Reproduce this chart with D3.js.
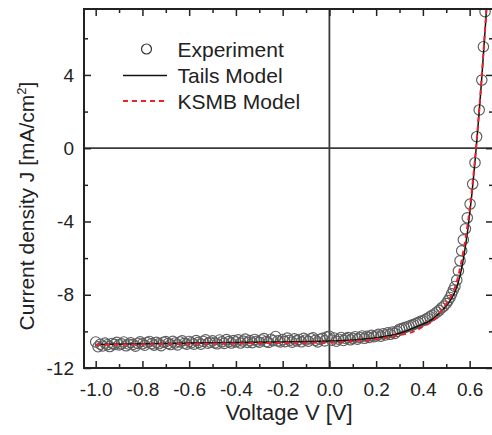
<!DOCTYPE html>
<html><head><meta charset="utf-8">
<script src="https://cdn.jsdelivr.net/npm/d3@7"></script>
<style>body{margin:0;background:#fff}svg{display:block}text{font-family:"Liberation Sans",Arial,sans-serif;fill:#222}</style>
</head><body>
<script>
// ---- data ----
const expV = [
-1.00,-0.99,-0.98,-0.97,-0.96,-0.95,-0.94,-0.93,-0.92,-0.91,
-0.90,-0.89,-0.88,-0.87,-0.86,-0.85,-0.84,-0.83,-0.82,-0.81,
-0.80,-0.79,-0.78,-0.77,-0.76,-0.75,-0.74,-0.73,-0.72,-0.71,
-0.70,-0.69,-0.68,-0.67,-0.66,-0.65,-0.64,-0.63,-0.62,-0.61,
-0.60,-0.59,-0.58,-0.57,-0.56,-0.55,-0.54,-0.53,-0.52,-0.51,
-0.50,-0.49,-0.48,-0.47,-0.46,-0.45,-0.44,-0.43,-0.42,-0.41,
-0.40,-0.39,-0.38,-0.37,-0.36,-0.35,-0.34,-0.33,-0.32,-0.31,
-0.30,-0.29,-0.28,-0.27,-0.26,-0.25,-0.24,-0.23,-0.22,-0.21,
-0.20,-0.19,-0.18,-0.17,-0.16,-0.15,-0.14,-0.13,-0.12,-0.11,
-0.10,-0.09,-0.08,-0.07,-0.06,-0.05,-0.04,-0.03,-0.02,-0.01,
0.00,0.01,0.02,0.03,0.04,0.05,0.06,0.07,0.08,0.09,
0.10,0.11,0.12,0.13,0.14,0.15,0.16,0.17,0.18,0.19,
0.20,0.21,0.22,0.23,0.24,0.25,0.26,0.27,0.28,0.29,
0.30,0.31,0.32,0.33,0.34,0.35,0.36,0.37,0.38,0.39,
0.40,0.41,0.42,0.43,0.44,0.45,0.46,0.47,0.48,0.49,
0.500,0.508,0.516,0.523,0.530,0.537,0.545,0.552,0.559,0.566,
0.573,0.582,0.590,0.602,0.613,0.623,0.630,0.641,0.652,0.659,0.666];
const expJ = [
-10.58,-10.84,-10.70,-10.80,-10.64,-10.73,-10.83,-10.66,-10.71,-10.60,
-10.74,-10.68,-10.58,-10.79,-10.69,-10.62,-10.71,-10.81,-10.66,-10.57,
-10.68,-10.76,-10.61,-10.55,-10.67,-10.75,-10.60,-10.68,-10.78,-10.59,
-10.56,-10.66,-10.72,-10.54,-10.63,-10.74,-10.58,-10.52,-10.65,-10.70,
-10.55,-10.62,-10.70,-10.50,-10.60,-10.70,-10.55,-10.46,-10.65,-10.59,
-10.52,-10.63,-10.68,-10.47,-10.57,-10.66,-10.45,-10.56,-10.64,-10.50,
-10.58,-10.46,-10.64,-10.53,-10.42,-10.60,-10.50,-10.62,-10.44,-10.54,
-10.59,-10.47,-10.39,-10.56,-10.61,-10.43,-10.51,-10.28,-10.52,-10.58,
-10.45,-10.56,-10.37,-10.49,-10.59,-10.41,-10.52,-10.44,-10.57,-10.38,
-10.47,-10.54,-10.40,-10.35,-10.49,-10.58,-10.43,-10.38,-10.52,-10.30,
-10.27,-10.48,-10.36,-10.54,-10.43,-10.33,-10.50,-10.39,-10.34,-10.46,
-10.38,-10.29,-10.43,-10.33,-10.25,-10.38,-10.27,-10.33,-10.22,-10.29,
-10.25,-10.16,-10.26,-10.13,-10.20,-10.08,-10.16,-10.04,-10.11,-10.00,
-9.88,-9.85,-9.80,-9.76,-9.72,-9.67,-9.63,-9.57,-9.52,-9.45,
-9.42,-9.35,-9.28,-9.20,-9.12,-9.05,-8.95,-8.85,-8.72,-8.62,
-8.48,-8.32,-8.15,-7.95,-7.75,-7.55,-7.20,-6.70,-6.15,-5.60,
-5.00,-4.40,-3.80,-3.05,-1.96,-0.79,0.63,2.09,3.72,5.54,7.45];
const tailsV = [-1.0,-0.8,-0.6,-0.4,-0.2,0.0,0.1,0.2,0.3,0.374,0.445,0.50,0.52,0.54,0.56,0.575,0.59,0.60,0.61,0.62,0.63,0.64,0.65,0.66,0.67,0.68];
const tailsJ = [-10.72,-10.68,-10.64,-10.61,-10.58,-10.53,-10.47,-10.35,-10.10,-9.74,-9.29,-8.60,-8.25,-7.75,-6.90,-5.90,-4.65,-3.60,-2.45,-1.15,0.30,1.85,3.50,5.30,7.15,9.10];
const ksmbV = [-1.0,-0.8,-0.6,-0.4,-0.2,0.0,0.1,0.2,0.3,0.345,0.40,0.45,0.50,0.52,0.54,0.56,0.575,0.59,0.60,0.61,0.62,0.63,0.64,0.65,0.66,0.67,0.68];
const ksmbJ = [-10.74,-10.71,-10.68,-10.66,-10.63,-10.60,-10.53,-10.42,-10.20,-10.08,-9.75,-9.35,-8.50,-8.10,-7.50,-6.50,-5.50,-4.30,-3.35,-2.25,-1.00,0.40,1.95,3.60,5.40,7.25,9.20];
const xTicks = [-1.0,-0.8,-0.6,-0.4,-0.2,0.0,0.2,0.4,0.6];
const xMinor = [-0.9,-0.7,-0.5,-0.3,-0.1,0.1,0.3,0.5];
const yTicks = [-12,-8,-4,0,4];
const yMinor = [-10,-6,-2,2,6];
const legendLabels = ["Experiment","Tails Model","KSMB Model"];

// ---- layout ----
const W = 492, H = 435;
const L = 84, R = 493, T = 9, B = 368;
const x = d3.scaleLinear().domain([-1.05, 0.70]).range([L, R]);
const y = d3.scaleLinear().domain([-12, 7.6]).range([B, T]);

const svg = d3.select("body").append("svg").attr("width", W).attr("height", H);
svg.append("defs").append("clipPath").attr("id","clip")
  .append("rect").attr("x",L).attr("y",T).attr("width",R-L).attr("height",B-T);

// zero lines
svg.append("line").attr("x1",L).attr("x2",R).attr("y1",y(0)).attr("y2",y(0)).attr("stroke","#3a3a3a").attr("stroke-width",1.8);
svg.append("line").attr("x1",x(0)).attr("x2",x(0)).attr("y1",T).attr("y2",B).attr("stroke","#3a3a3a").attr("stroke-width",1.8);

const plot = svg.append("g").attr("clip-path","url(#clip)");
const pts = expV.map((v,i)=>({v, j: expJ[i]}));
plot.selectAll("circle.exp").data(pts).join("circle").attr("class","exp")
  .attr("cx",d=>x(d.v)).attr("cy",d=>y(d.j)).attr("r",5.2)
  .attr("fill","none").attr("stroke","#5e5e5e").attr("stroke-width",1.15);

const line = d3.line().x(d=>x(d[0])).y(d=>y(d[1])).curve(d3.curveMonotoneX);
plot.append("path").datum(tailsV.map((v,i)=>[v,tailsJ[i]])).attr("d",line)
  .attr("fill","none").attr("stroke","#111").attr("stroke-width",1.5);
plot.append("path").datum(ksmbV.map((v,i)=>[v,ksmbJ[i]])).attr("d",line)
  .attr("fill","none").attr("stroke","#e8232a").attr("stroke-width",2).attr("stroke-dasharray","5,4");

// axes
const fs = 19;
function styleAxis(g){ g.select(".domain").remove(); g.selectAll("line").attr("stroke","#222").attr("stroke-width",1.5); g.selectAll("text").attr("font-size",fs).attr("fill","#222").attr("font-family","Liberation Sans, Arial, sans-serif"); }
const fmtX = d=> (d<0?"-":"") + Math.abs(d).toFixed(1);
const fmtY = d=> (d<0?"-":"") + Math.abs(d);

svg.append("g").attr("transform",`translate(0,${B})`)
  .call(d3.axisBottom(x).tickValues(xTicks).tickSize(-7).tickPadding(15).tickFormat(fmtX)).call(styleAxis);
svg.append("g").attr("transform",`translate(0,${B})`)
  .call(d3.axisBottom(x).tickValues(xMinor).tickSize(-4).tickFormat("")).call(styleAxis);
svg.append("g").attr("transform",`translate(0,${T})`)
  .call(d3.axisTop(x).tickValues(xTicks).tickSize(-7).tickFormat("")).call(styleAxis);
svg.append("g").attr("transform",`translate(0,${T})`)
  .call(d3.axisTop(x).tickValues(xMinor).tickSize(-4).tickFormat("")).call(styleAxis);
svg.append("g").attr("transform",`translate(${L},0)`)
  .call(d3.axisLeft(y).tickValues(yTicks).tickSize(-7).tickPadding(10).tickFormat(fmtY)).call(styleAxis);
svg.append("g").attr("transform",`translate(${L},0)`)
  .call(d3.axisLeft(y).tickValues(yMinor).tickSize(-4).tickFormat("")).call(styleAxis);
svg.append("g").attr("transform",`translate(${R},0)`)
  .call(d3.axisRight(y).tickValues(yTicks).tickSize(-7).tickFormat("")).call(styleAxis);
svg.append("g").attr("transform",`translate(${R},0)`)
  .call(d3.axisRight(y).tickValues(yMinor).tickSize(-4).tickFormat("")).call(styleAxis);

// frame
svg.append("rect").attr("x",L).attr("y",T).attr("width",R-L).attr("height",B-T)
  .attr("fill","none").attr("stroke","#222").attr("stroke-width",2);

// axis titles
svg.append("text").attr("x",289).attr("y",420).attr("text-anchor","middle").attr("font-size",22).text("Voltage V [V]");
const yt = svg.append("text").attr("transform","translate(34,206) rotate(-90)").attr("text-anchor","middle").attr("font-size",21);
yt.append("tspan").text("Current density J [mA/cm");
yt.append("tspan").attr("font-size",13).attr("dy",-8).text("2");
yt.append("tspan").attr("dy",8).text("]");

// legend
const lg = svg.append("g");
const rows = [49, 75.5, 101];
lg.append("circle").attr("cx",146.5).attr("cy",rows[0]).attr("r",5).attr("fill","none").attr("stroke","#333").attr("stroke-width",1.2);
lg.append("line").attr("x1",123).attr("x2",167).attr("y1",rows[1]).attr("y2",rows[1]).attr("stroke","#111").attr("stroke-width",1.5);
lg.append("line").attr("x1",123).attr("x2",167).attr("y1",rows[2]).attr("y2",rows[2]).attr("stroke","#e8232a").attr("stroke-width",2).attr("stroke-dasharray","5,4");
lg.selectAll("text").data(legendLabels).join("text")
  .attr("x",177.5).attr("y",(d,i)=>rows[i]+7.5).attr("font-size",21).text(d=>d);
</script>
</body></html>
